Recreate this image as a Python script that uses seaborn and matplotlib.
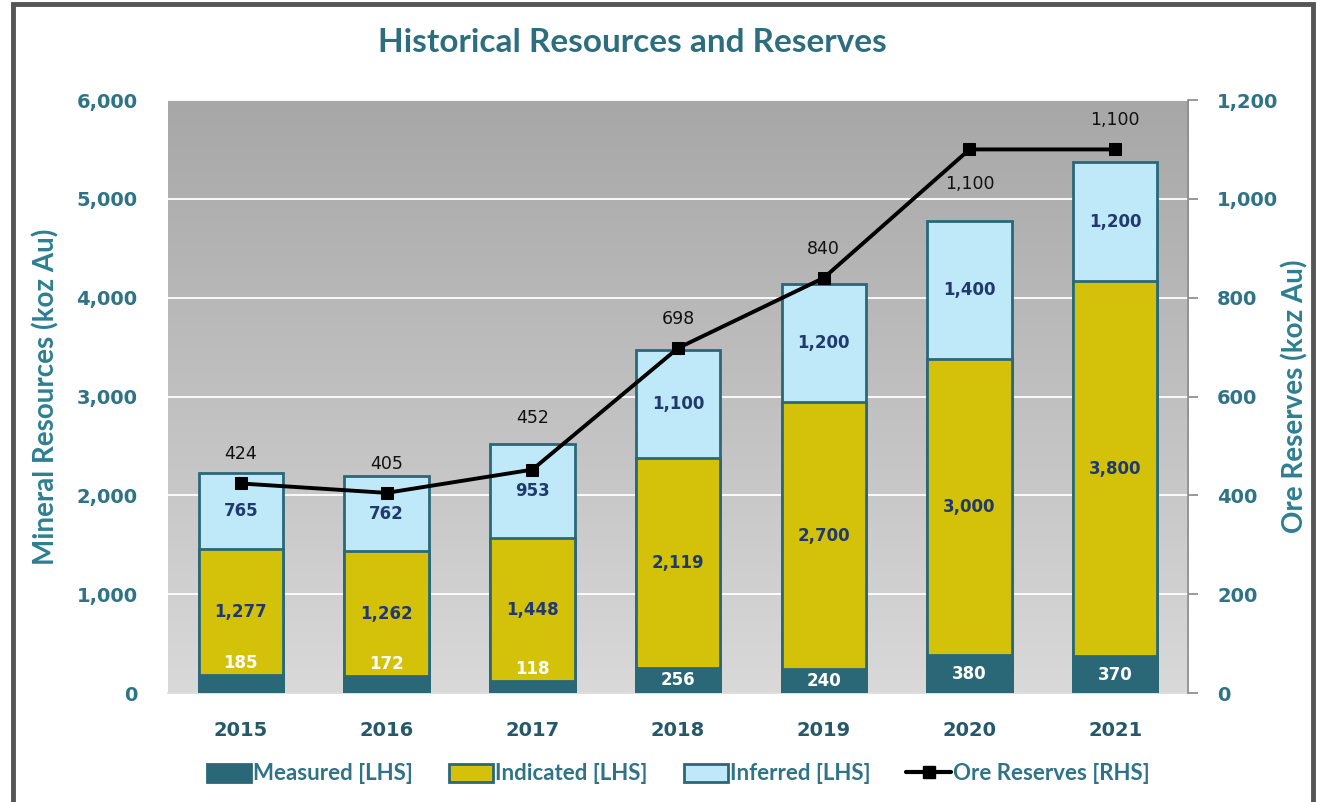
import numpy as np
import pandas as pd
import seaborn as sns
import matplotlib.pyplot as plt
from matplotlib.colors import LinearSegmentedColormap
from matplotlib.patches import Patch, Rectangle
from matplotlib.lines import Line2D
from matplotlib.ticker import FuncFormatter

sns.set_theme(style='white')
plt.rcParams['font.family'] = ['DejaVu Sans']

# data
years = ['2015', '2016', '2017', '2018', '2019', '2020', '2021']
measured = [185, 172, 118, 256, 240, 380, 370]
indicated = [1277, 1262, 1448, 2119, 2700, 3000, 3800]
inferred = [765, 762, 953, 1100, 1200, 1400, 1200]
ore_reserves = [424, 405, 452, 698, 840, 1100, 1100]

teal = '#2a6878'
tick_teal = '#2e7386'
navy = '#1f3a6e'
calibri = ['Lato', 'DejaVu Sans']

df = pd.DataFrame({'year': years, 'measured': measured,
                   'indicated': indicated, 'inferred': inferred})
df['mi'] = df['measured'] + df['indicated']
df['total'] = df['mi'] + df['inferred']

fig = plt.figure(figsize=(13.17, 8.02), dpi=100)
ax = fig.add_axes([0.1276, 0.1359, 0.7745, 0.7394])

# gradient plot area
cmap = LinearSegmentedColormap.from_list('bg', ['#d9d9d9', '#a7a7a7'])
grad = np.linspace(0, 1, 256).reshape(-1, 1)
ax.imshow(grad, extent=[-0.5, 6.5, 0, 6000], origin='lower', aspect='auto',
          cmap=cmap, zorder=0)

# stacked bars drawn as overlapping cumulative totals
w = 0.58
sns.barplot(data=df, x='year', y='total', color='#bfe8f8', edgecolor=teal,
            linewidth=2, width=w, saturation=1, ax=ax, zorder=2)
sns.barplot(data=df, x='year', y='mi', color='#d4c20a', edgecolor=teal,
            linewidth=2, width=w, saturation=1, ax=ax, zorder=3)
sns.barplot(data=df, x='year', y='measured', color=teal, edgecolor=teal,
            linewidth=2, width=w, saturation=1, ax=ax, zorder=4)

ax.set_xlim(-0.5, 6.5)
ax.set_ylim(0, 6000)
ax.set_yticks(np.arange(0, 6001, 1000))
ax.yaxis.set_major_formatter(FuncFormatter(lambda v, p: f'{int(v):,}'))
ax.grid(axis='y', color='white', linewidth=1.3, zorder=1)
ax.set_axisbelow(True)
for s in ['left', 'top', 'right']:
    ax.spines[s].set_visible(False)
ax.spines['bottom'].set_color('#d9d9d9')
ax.tick_params(axis='y', length=0, pad=22, labelsize=14, labelcolor=tick_teal)
ax.tick_params(axis='x', length=0, pad=20, labelsize=14, labelcolor='#25596a')
for t in ax.get_yticklabels() + ax.get_xticklabels():
    t.set_fontweight('bold')
ax.set_xlabel('')
ax.set_ylabel('Mineral Resources (koz Au)', fontsize=20, fontweight='bold',
              color='#2e7f93', family=calibri, labelpad=12)

# segment labels
for i in range(len(years)):
    m = measured[i]
    my = m / 2 if m > 200 else m + 120
    ax.text(i, my, f'{m:,}', ha='center', va='center', color='white',
            fontsize=12, fontweight='bold', zorder=6)
    ax.text(i, m + indicated[i] / 2, f'{indicated[i]:,}', ha='center',
            va='center', color=navy, fontsize=12, fontweight='bold', zorder=6)
    ax.text(i, m + indicated[i] + inferred[i] / 2, f'{inferred[i]:,}',
            ha='center', va='center', color=navy, fontsize=12,
            fontweight='bold', zorder=6)

# ore reserves line on right axis
ax2 = ax.twinx()
sns.lineplot(x=np.arange(len(years)), y=ore_reserves, ax=ax2, color='black',
             linewidth=2.8, marker='s', markersize=9, markeredgecolor='black',
             zorder=5)
ax2.set_ylim(0, 1200)
ax2.set_yticks(np.arange(0, 1201, 200))
ax2.yaxis.set_major_formatter(FuncFormatter(lambda v, p: f'{int(v):,}'))
for s in ['left', 'top', 'bottom']:
    ax2.spines[s].set_visible(False)
ax2.spines['right'].set_color('#8c8c8c')
ax2.spines['right'].set_linewidth(1.2)
ax2.tick_params(axis='y', direction='out', length=7, color='#8c8c8c',
                pad=14, labelsize=14, labelcolor=tick_teal)
for t in ax2.get_yticklabels():
    t.set_fontweight('bold')
ax2.set_ylabel('Ore Reserves (koz Au)', fontsize=20, fontweight='bold',
               color='#2e7f93', family=calibri, labelpad=2)

label_offsets = [21, 21, 37, 21, 21, -25, 21]
for i, v in enumerate(ore_reserves):
    ax2.annotate(f'{v:,}', (i, v), xytext=(0, label_offsets[i]),
                 textcoords='offset points', ha='center', va='center',
                 fontsize=12.5, color='#111111')

fig.suptitle('Historical Resources and Reserves', x=0.48, y=0.947,
             va='center', fontsize=24, fontweight='bold', color='#2d6e7e',
             family=calibri)

handles = [
    Patch(facecolor=teal, edgecolor=teal, linewidth=2),
    Patch(facecolor='#d4c20a', edgecolor=teal, linewidth=2),
    Patch(facecolor='#bfe8f8', edgecolor=teal, linewidth=2),
    Line2D([], [], color='black', linewidth=3, marker='s', markersize=8),
]
labels = ['Measured [LHS]', 'Indicated [LHS]', 'Inferred [LHS]',
          'Ore Reserves [RHS]']
leg = fig.legend(handles, labels, loc='center', bbox_to_anchor=(0.515, 0.035),
                 ncol=4, frameon=False, handlelength=2.0, handleheight=0.85,
                 handletextpad=0.1, columnspacing=1.6,
                 prop={'family': calibri, 'weight': 'bold', 'size': 16})
for t in leg.get_texts():
    t.set_color(tick_teal)

fig.add_artist(Rectangle((0.0099, -0.02), 0.987, 1.015,
                         transform=fig.transFigure, fill=False,
                         edgecolor='#555555', linewidth=3.5))

fig.savefig('out.png', dpi=100)
